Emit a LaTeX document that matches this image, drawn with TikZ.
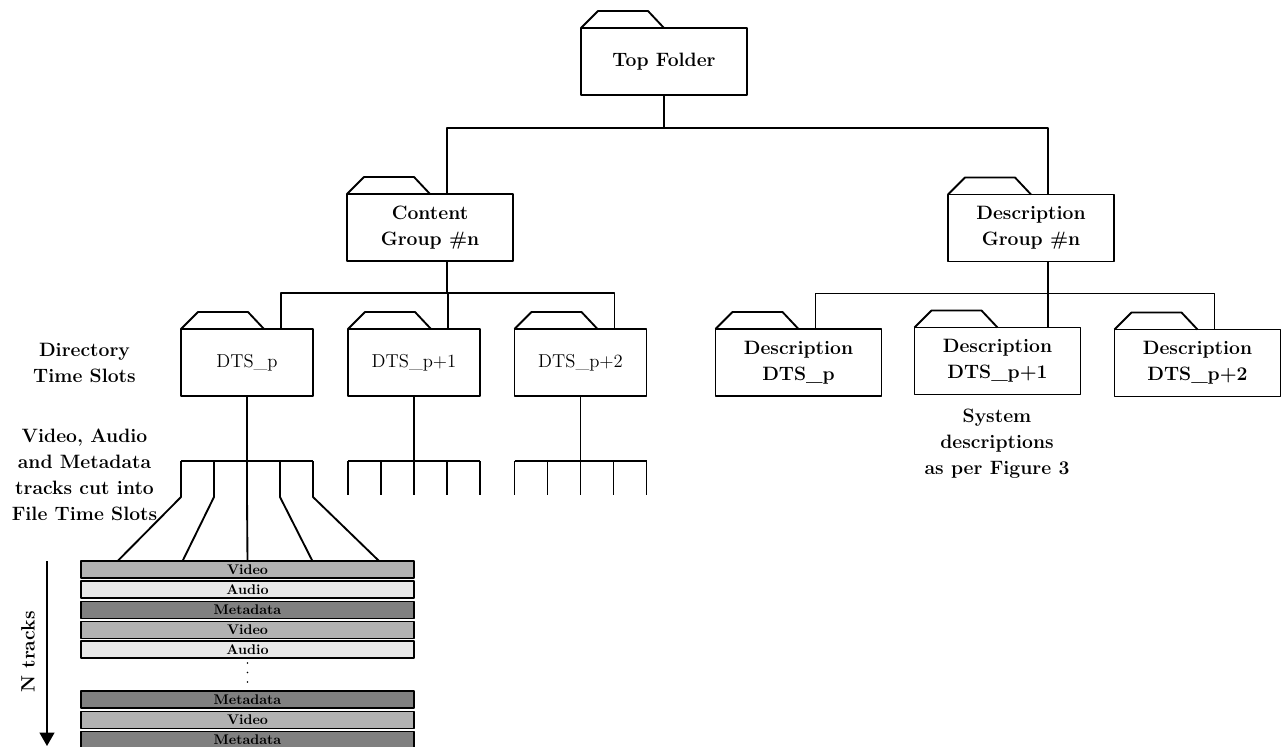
\documentclass[tikz,border=0pt]{standalone}
\usetikzlibrary{calc,arrows.meta}

\begin{document}
\begin{tikzpicture}[x=0.75pt,y=-0.75pt,line width=1.4pt,line join=round,
    folder/.style={draw,minimum width=124.5pt,minimum height=50.25pt,inner sep=0pt,outer sep=0pt,
      align=center,font=\fontsize{14.5}{19.5}\selectfont\bfseries},
    dtsbox/.style={folder,minimum width=99pt,font=\fontsize{14}{17}\selectfont},
    track/.style={draw,minimum width=249.75pt,minimum height=12.75pt,inner sep=0pt,outer sep=0pt,
      font=\fontsize{10.5}{11}\selectfont\bfseries},
    video/.style={track,fill=black!30},
    audio/.style={track,fill=black!9},
    meta/.style={track,fill=black!50},
    caption/.style={align=center,font=\fontsize{14.5}{19.5}\selectfont\bfseries}]
  \useasboundingbox (0,0) rectangle (1288,746);

  % folders
  \node(top)[folder] at (664,61.5) {Top Folder};
  \node(cg)[folder] at (430,227.5) {Content\\Group \#n};
  \node(dg)[folder] at (1031,228) {Description\\Group \#n};

  \node(d0)[dtsbox] at (247,362.5) {DTS\_p};
  \node(d1)[dtsbox] at (414,362.5) {DTS\_p+1};
  \node(d2)[dtsbox] at (580.5,362.5) {DTS\_p+2};

  \node(e0)[folder] at (798.5,362.5) {Description\\DTS\_p};
  \node(e1)[folder] at (997.5,361) {Description\\DTS\_p+1};
  \node(e2)[folder] at (1197.5,363) {Description\\DTS\_p+2};

  \foreach \f in {top,cg,dg,d0,d1,d2,e0,e1,e2}
    \draw (\f.north west) -- ++(17,-17) -- ++(50,0) -- ++(16,17);

  % labels
  \node(ldts)[caption] at (84.5,363) {Directory\\Time Slots};
  \node(lfts)[caption] at (84.5,475) {Video, Audio\\and Metadata\\tracks cut into\\File Time Slots};
  \node(lsys)[caption] at (997,443.5) {System\\descriptions\\as per Figure 3};

  % tree
  \coordinate(cgin) at ($(cg.north west)+(100,0)$);
  \coordinate(dgin) at ($(dg.north west)+(100,0)$);
  \draw (top.south) -- ++(0,33) coordinate(j0);
  \draw (j0) -| (cgin);
  \draw (j0) -| (dgin);

  \draw (cgin |- cg.south) -- ++(0,32) coordinate(j1);
  \foreach \d in {d0,d1,d2}
    \draw (j1) -| ($(\d.north west)+(100,0)$);

  \draw (dgin |- dg.south) -- (dgin |- e1.north);
  \path (dgin |- dg.south) ++(0,32) coordinate(j2);
  \foreach \d in {e0,e2}
    \draw (j2) -| ($(\d.north west)+(100,0)$);

  % combs
  \foreach \d in {d1,d2}{
    \draw (\d.south) -- ++(0,65) coordinate(k);
    \draw (\d.south west |- k) -- (\d.south east |- k);
    \foreach \f in {0,.25,.5,.75,1}
      \draw ($(\d.south west |- k)!\f!(\d.south east |- k)$) -- ++(0,34);
  }

  % tracks
  \node(t1)[video] at (247.5,569.5) {Video};
  \node(t2)[audio] at (247.5,589.5) {Audio};
  \node(t3)[meta] at (247.5,610) {Metadata};
  \node(t4)[video] at (247.5,630) {Video};
  \node(t5)[audio] at (247.5,649.5) {Audio};
  \node(t6)[meta] at (247.5,699.5) {Metadata};
  \node(t7)[video] at (247.5,720) {Video};
  \node(t8)[meta] at (247.5,740) {Metadata};
  \foreach \yy in {663,672.5,682}
    \fill (247.5,\yy) circle (0.7pt);

  \draw (d0.south) -- ++(0,65) coordinate(k0);
  \draw (d0.south west |- k0) -- (d0.south east |- k0);
  \foreach \f/\g in {0/.11,.25/.305,.5/.5,.75/.695,1/.895}
    \draw ($(d0.south west |- k0)!\f!(d0.south east |- k0)$) -- ++(0,36)
      -- ($(t1.north west)!\g!(t1.north east)$);

  % N tracks
  \coordinate(ntop) at (47,561);
  \coordinate(nbot) at (47,746);
  \draw[-{Triangle[width=11pt,length=10pt]}] (ntop) -- (nbot);
  \node(ntr)[rotate=90,font=\fontsize{14.5}{17}\selectfont\bfseries] at (28,652) {N tracks};
\end{tikzpicture}
\end{document}
